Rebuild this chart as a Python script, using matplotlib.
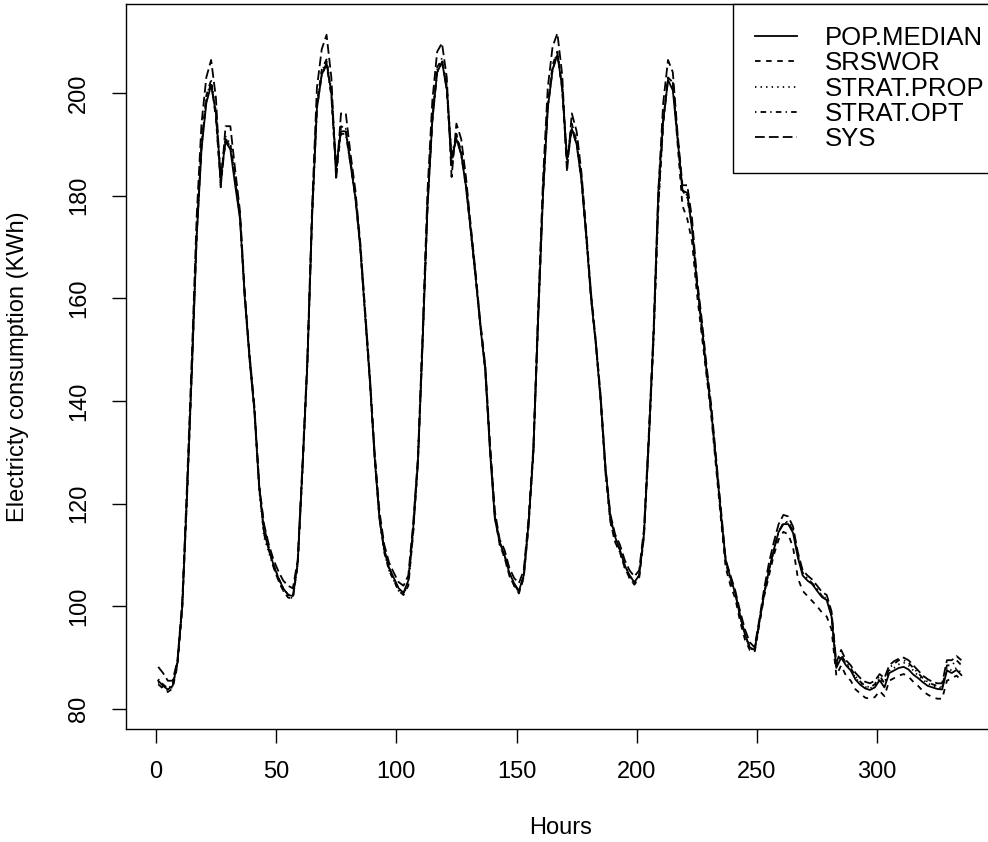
import numpy as np
import matplotlib
import matplotlib.pyplot as plt

matplotlib.rcParams['font.family'] = 'sans-serif'
matplotlib.rcParams['font.sans-serif'] = ['Liberation Sans', 'DejaVu Sans']
matplotlib.rcParams['lines.scale_dashes'] = False

# hourly readings, every second hour
hours = list(range(1, 336, 2))

pop_median = [
    85.5, 84.5, 83.8, 84.5, 89.0, 100.0, 122.0, 146.0, 172.0, 189.0, 198.0, 201.5, 196.0, 183.5, 190.5, 189.0, 182.0, 175.5, 160.0, 148.0, 138.0, 123.0, 114.5, 111.0,
    108.0, 105.5, 103.5, 102.2, 102.0, 108.5, 127.0, 147.0, 176.0, 197.0, 203.5, 205.8, 200.0, 185.5, 192.5, 192.5, 186.0, 179.5, 170.0, 157.0, 144.0, 129.0, 117.0, 111.0,
    107.5, 105.5, 103.5, 102.6, 105.0, 115.0, 128.0, 152.0, 178.0, 194.7, 204.0, 206.0, 201.0, 187.5, 191.0, 188.0, 181.7, 173.0, 164.0, 154.4, 146.0, 130.0, 117.0, 112.5,
    110.0, 106.5, 104.5, 103.0, 106.0, 116.0, 130.0, 156.0, 180.0, 197.0, 204.5, 207.4, 201.0, 187.0, 193.0, 190.0, 183.0, 172.0, 160.0, 151.0, 140.0, 127.0, 117.5, 113.5,
    111.0, 108.0, 106.0, 104.7, 106.0, 114.0, 132.0, 153.0, 181.0, 194.5, 202.5, 200.5, 191.0, 181.0, 180.5, 173.5, 163.0, 155.0, 146.0, 138.0, 128.0, 118.0, 109.0, 105.5,
    102.5, 98.0, 94.5, 92.0, 91.5, 97.0, 102.5, 107.0, 111.0, 114.5, 116.0, 116.0, 114.3, 109.5, 106.0, 105.0, 104.3, 103.0, 101.8, 101.2, 98.0, 88.0, 90.0, 88.5,
    87.5, 85.7, 84.7, 84.0, 83.7, 84.2, 85.6, 84.2, 87.0, 87.5, 88.0, 88.2, 87.7, 86.7, 86.0, 85.2, 84.5, 84.2, 83.9, 83.8, 87.5, 87.0, 87.6, 86.6,
]

srswor = [
    84.8, 84.0, 83.3, 84.0, 88.5, 99.5, 121.5, 146.0, 172.5, 190.0, 199.5, 202.5, 195.0, 182.0, 191.0, 190.0, 183.5, 176.0, 160.5, 148.5, 138.5, 123.5, 115.5, 111.5,
    107.5, 105.0, 103.0, 101.7, 101.5, 108.0, 126.5, 147.0, 176.5, 198.0, 204.5, 206.5, 199.5, 184.0, 193.5, 193.0, 186.5, 180.0, 170.5, 157.5, 144.5, 129.5, 117.5, 110.5,
    107.0, 105.0, 103.0, 102.2, 104.0, 114.0, 128.5, 152.5, 178.5, 195.0, 205.0, 206.5, 200.5, 186.0, 192.0, 188.5, 182.0, 173.5, 164.5, 155.0, 146.5, 130.5, 117.5, 112.0,
    109.5, 106.0, 104.0, 102.5, 105.5, 115.5, 130.0, 156.5, 180.5, 197.5, 205.5, 208.0, 200.5, 186.0, 194.0, 190.5, 183.5, 172.5, 160.5, 151.5, 140.5, 126.5, 116.5, 112.5,
    110.5, 107.5, 105.5, 104.2, 105.5, 113.5, 132.5, 152.5, 178.5, 194.5, 203.0, 202.0, 190.0, 178.0, 175.5, 171.0, 161.0, 153.0, 145.0, 137.0, 127.0, 117.0, 107.5, 104.0,
    101.5, 97.0, 93.5, 91.5, 91.0, 96.5, 102.0, 106.0, 110.0, 113.0, 114.5, 114.0, 111.5, 105.5, 103.0, 102.0, 101.0, 100.0, 98.8, 98.0, 95.5, 86.5, 88.5, 86.5,
    85.5, 83.8, 83.0, 82.2, 82.0, 82.3, 83.5, 82.5, 85.5, 86.0, 86.5, 86.8, 86.3, 85.3, 84.5, 83.5, 82.8, 82.3, 82.0, 82.0, 85.5, 86.0, 86.5, 85.5,
]

strat_prop = [
    85.2, 84.3, 83.6, 84.3, 89.0, 100.5, 122.5, 147.0, 173.0, 190.0, 199.0, 202.5, 196.5, 184.0, 191.5, 190.0, 183.5, 175.5, 160.0, 148.0, 138.0, 122.5, 113.5, 110.5,
    107.5, 105.0, 103.0, 101.8, 101.6, 108.0, 126.5, 147.0, 176.5, 197.5, 204.0, 206.5, 200.5, 186.0, 193.0, 193.0, 186.5, 180.0, 170.0, 157.0, 144.0, 129.0, 117.5, 110.5,
    107.0, 105.0, 103.0, 102.3, 104.5, 114.5, 128.5, 152.0, 178.0, 195.0, 204.5, 206.8, 201.5, 188.0, 191.5, 188.5, 182.0, 173.0, 164.0, 154.5, 146.0, 130.5, 117.5, 112.0,
    109.5, 106.0, 104.0, 102.7, 105.7, 116.0, 130.0, 156.0, 180.5, 197.5, 205.0, 208.0, 201.5, 187.5, 193.5, 190.5, 183.0, 172.0, 160.0, 151.0, 140.0, 126.0, 116.5, 112.5,
    110.5, 107.5, 105.5, 104.3, 105.7, 114.0, 132.5, 152.5, 178.5, 194.5, 203.0, 202.0, 191.5, 181.0, 180.0, 173.5, 163.0, 154.0, 146.0, 138.0, 128.0, 118.0, 108.5, 105.0,
    102.3, 98.0, 94.5, 92.0, 91.3, 97.0, 102.5, 107.0, 111.0, 114.5, 116.3, 116.5, 115.0, 110.0, 106.5, 105.3, 104.5, 103.3, 102.0, 101.5, 98.5, 88.5, 90.5, 88.8,
    87.8, 86.0, 85.0, 84.3, 84.0, 84.5, 86.0, 84.5, 87.5, 88.0, 88.7, 89.0, 88.5, 87.5, 86.5, 85.7, 85.0, 84.5, 84.2, 84.0, 88.0, 87.5, 88.0, 87.0,
]

strat_opt = [
    85.8, 84.8, 84.0, 84.7, 89.3, 100.3, 122.0, 146.5, 172.5, 189.5, 198.5, 202.0, 195.5, 182.5, 191.0, 189.5, 183.0, 175.8, 160.5, 148.5, 138.5, 123.5, 114.0, 111.0,
    108.0, 105.5, 103.5, 102.3, 102.0, 108.5, 127.0, 147.0, 176.0, 197.0, 203.5, 205.5, 199.5, 184.5, 192.0, 192.0, 186.0, 179.5, 170.0, 157.0, 144.0, 129.0, 117.0, 111.0,
    107.5, 105.3, 103.3, 102.5, 104.8, 114.5, 128.0, 152.0, 178.0, 194.5, 204.0, 206.0, 200.5, 186.5, 191.5, 188.0, 181.5, 173.0, 164.0, 154.5, 146.0, 131.0, 117.5, 112.5,
    110.0, 106.5, 104.3, 102.8, 106.0, 116.0, 130.0, 156.0, 180.0, 197.0, 204.5, 207.5, 201.0, 186.0, 193.0, 190.0, 183.0, 172.0, 160.0, 151.0, 140.0, 126.0, 117.0, 113.0,
    111.0, 108.0, 106.0, 104.7, 106.0, 114.0, 132.0, 152.0, 178.0, 194.0, 202.5, 202.0, 191.0, 181.0, 179.5, 174.0, 163.0, 154.0, 146.0, 138.0, 128.0, 118.0, 108.5, 105.0,
    102.5, 98.0, 94.5, 92.0, 91.3, 96.8, 102.5, 107.0, 111.0, 114.5, 116.3, 116.2, 114.8, 109.8, 106.5, 105.3, 104.5, 103.3, 102.0, 101.5, 98.3, 88.3, 90.5, 89.0,
    88.0, 86.3, 85.3, 84.5, 84.2, 84.8, 86.5, 85.0, 88.0, 88.8, 89.5, 89.5, 89.0, 88.0, 87.0, 86.0, 85.3, 84.8, 84.5, 84.3, 88.5, 88.5, 89.5, 88.5,
]

sys_sample = [
    88.2, 87.0, 85.5, 85.5, 89.5, 101.0, 124.0, 149.0, 176.0, 194.0, 203.0, 206.4, 199.0, 181.6, 193.5, 193.5, 185.0, 177.0, 161.0, 149.0, 139.0, 123.5, 116.0, 112.0,
    109.0, 106.8, 105.0, 104.0, 103.5, 109.0, 128.0, 148.0, 178.0, 201.0, 208.5, 211.3, 203.0, 183.0, 196.0, 196.0, 188.0, 181.0, 171.0, 158.0, 145.0, 130.0, 118.5, 112.0,
    108.5, 106.5, 104.7, 104.0, 106.0, 116.0, 129.0, 154.0, 181.0, 198.5, 208.0, 209.7, 203.0, 183.6, 194.0, 191.0, 183.5, 174.0, 165.0, 155.0, 147.0, 131.5, 118.5, 113.0,
    111.0, 107.5, 105.5, 104.5, 107.0, 117.0, 131.0, 158.0, 183.0, 201.0, 209.0, 211.6, 203.5, 184.6, 196.0, 192.5, 184.5, 173.0, 161.0, 151.5, 141.0, 127.0, 118.0, 114.0,
    112.0, 109.0, 107.0, 105.8, 107.0, 115.0, 133.5, 154.0, 181.0, 198.0, 206.4, 204.0, 192.0, 182.0, 182.0, 175.5, 164.0, 156.0, 147.0, 139.0, 129.0, 119.0, 109.0, 106.0,
    103.0, 99.0, 95.5, 93.0, 92.0, 97.5, 103.5, 108.5, 112.5, 116.0, 117.8, 117.5, 115.5, 110.5, 107.0, 106.0, 105.2, 104.0, 102.8, 102.2, 99.0, 89.0, 91.5, 89.5,
    88.5, 87.0, 86.0, 85.3, 85.0, 85.5, 86.8, 86.0, 88.5, 89.3, 89.8, 90.0, 89.5, 88.5, 87.5, 86.5, 85.8, 85.3, 85.0, 85.0, 89.5, 89.5, 90.3, 89.5,
]

labels = ['POP.MEDIAN', 'SRSWOR', 'STRAT.PROP', 'STRAT.OPT', 'SYS']
# R line types 1..5, dash lengths in points
styles = ['-', (0, (4, 4)), (0, (1, 3)), (0, (1, 3, 4, 3)), (0, (7, 3))]

fig = plt.figure(figsize=(9.88, 8.42), dpi=100)
ax = fig.add_axes([126 / 988, 113 / 842, 870 / 988, 725 / 842])

for series, lab, ls in zip([pop_median, srswor, strat_prop, strat_opt, sys_sample], labels, styles):
    ax.plot(hours, series, color='black', linestyle=ls, linewidth=1.3, label=lab)

ax.set_xlim(-12.4, 349.4)
ax.set_ylim(76.1, 217.3)
ax.set_xticks([0, 50, 100, 150, 200, 250, 300])
ax.set_yticks([80, 100, 120, 140, 160, 180, 200])

ax.tick_params(direction='out', length=10, width=1.0, labelsize=17, colors='black')
ax.tick_params(axis='x', pad=13)
ax.tick_params(axis='y', labelrotation=90, pad=16)
for lbl in ax.get_yticklabels():
    lbl.set_verticalalignment('center')
for sp in ax.spines.values():
    sp.set_linewidth(1.0)

ax.set_xlabel('Hours', fontsize=17, va='center')
ax.set_ylabel('Electricty consumption (KWh)', fontsize=17, va='center')
ax.xaxis.set_label_coords(0.5, -0.1366)
ax.yaxis.set_label_coords(-0.1241, 0.5)

# legend box runs off the right edge, like the original
leg = ax.legend(loc='upper right', bbox_to_anchor=(1.0126, 1), borderaxespad=0,
                fontsize=18.5, fancybox=False, framealpha=1, edgecolor='black',
                handlelength=1.63, handletextpad=1.09, labelspacing=0.05,
                borderpad=0.86)
leg.get_frame().set_linewidth(1.0)

fig.savefig('out.png', dpi=100)
